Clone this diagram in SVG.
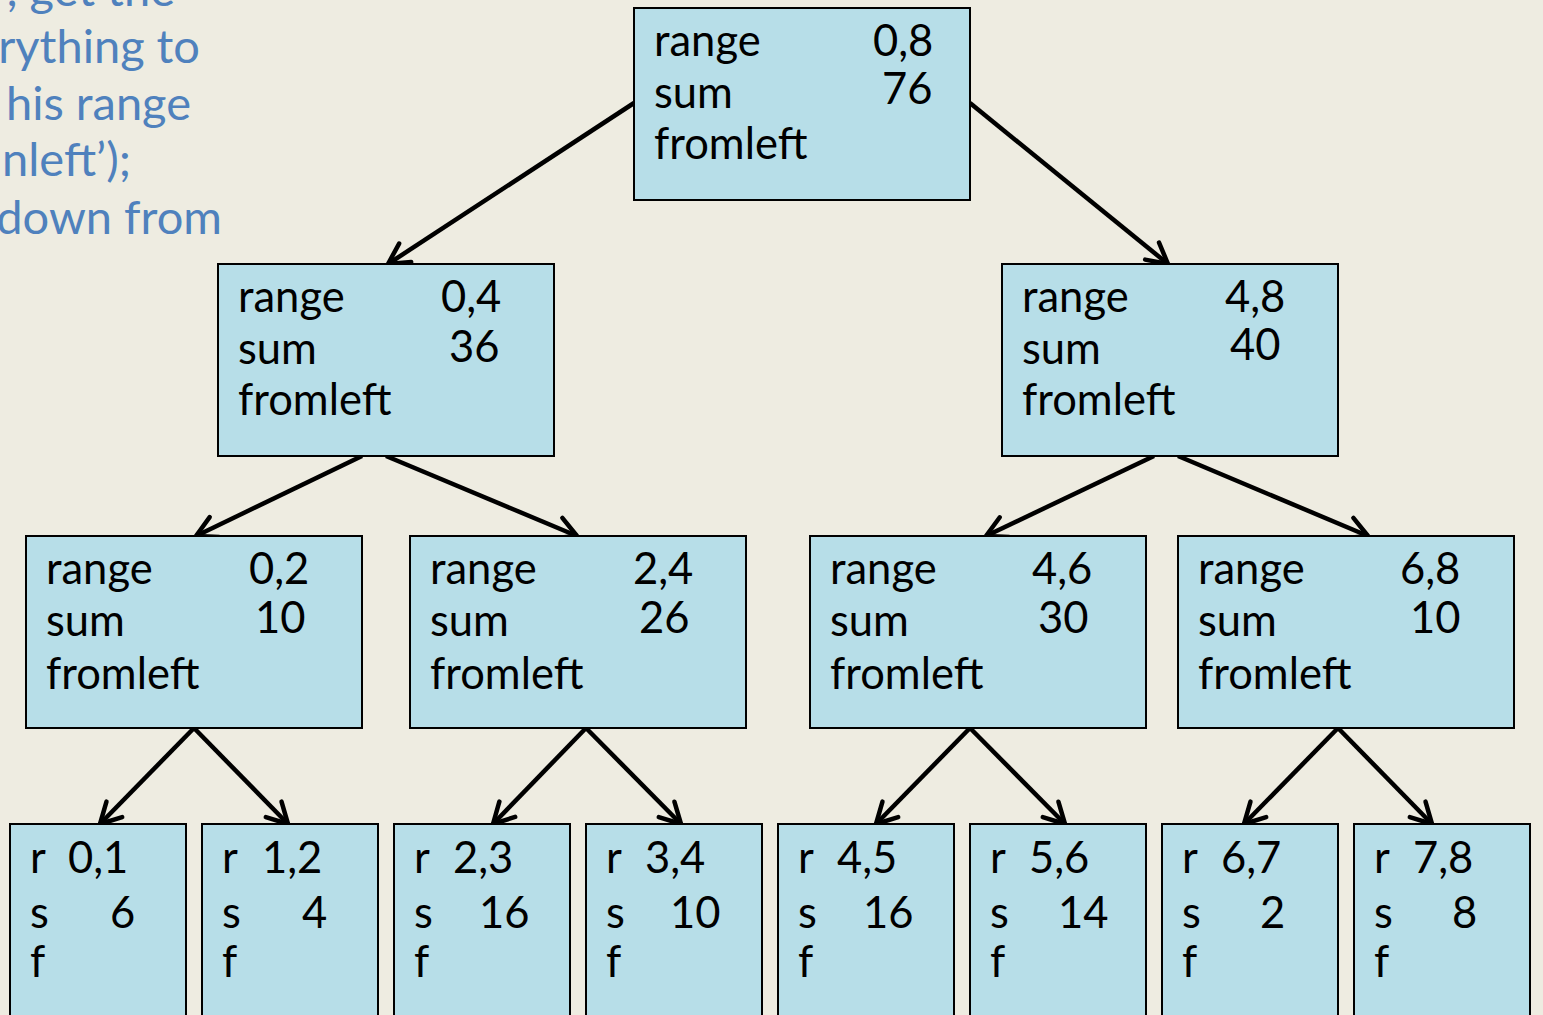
<svg xmlns="http://www.w3.org/2000/svg" width="1543" height="1015" viewBox="0 0 1543 1015">
  <style>
    .box { fill: #B7DEE8; stroke: #000; stroke-width: 2; }
    .t { font-family: Lato, "Liberation Sans", sans-serif; font-size: 43.5px; fill: #000; }
    .note { font-family: Lato, "Liberation Sans", sans-serif; font-size: 47px; fill: #4F81BD; text-anchor: end; }
    .edge { stroke: #000; stroke-width: 4.5; fill: none; marker-end: url(#arrow); }
  </style>
  <defs>
    <marker id="arrow" markerUnits="userSpaceOnUse" markerWidth="32" markerHeight="32" viewBox="0 0 32 32" refX="27" refY="16" orient="auto">
      <path d="M6.5,5 L27,16 L6.5,27" fill="none" stroke="#000" stroke-width="4.5" stroke-linecap="round" stroke-linejoin="round"/>
    </marker>
  </defs>

  <rect width="1543" height="1015" fill="#EEECE1"/>

  <!-- explanatory text running off the left edge -->
  <g id="note">
    <text class="note" x="175" y="6">, get the</text>
    <text class="note" x="200" y="63">rything to</text>
    <text class="note" x="191" y="120">his range</text>
    <text class="note" x="131" y="176">nleft’);</text>
    <text class="note" x="222" y="234">down from</text>
  </g>

  <!-- connectors -->
  <g id="connectors">
    <line class="edge" x1="634" y1="103" x2="388" y2="264"/>
    <line class="edge" x1="970" y1="103" x2="1168" y2="264"/>
    <line class="edge" x1="362" y1="456" x2="196" y2="536"/>
    <line class="edge" x1="386" y1="456" x2="577" y2="536"/>
    <line class="edge" x1="1154" y1="456" x2="986" y2="536"/>
    <line class="edge" x1="1178" y1="456" x2="1368" y2="536"/>
    <line class="edge" x1="194" y1="728" x2="100" y2="824"/>
    <line class="edge" x1="194" y1="728" x2="288" y2="824"/>
    <line class="edge" x1="586" y1="728" x2="493" y2="824"/>
    <line class="edge" x1="586" y1="728" x2="681" y2="824"/>
    <line class="edge" x1="970" y1="728" x2="876" y2="824"/>
    <line class="edge" x1="970" y1="728" x2="1065" y2="824"/>
    <line class="edge" x1="1338" y1="728" x2="1244" y2="824"/>
    <line class="edge" x1="1338" y1="728" x2="1432" y2="824"/>
  </g>

  <!-- root -->
  <g id="n08">
    <rect class="box" x="634" y="8" width="336" height="192"/>
    <text class="t" x="654" y="56">range</text>
    <text class="t" x="654" y="108">sum</text>
    <text class="t" x="654" y="159">fromleft</text>
    <text class="t" x="873" y="56">0,8</text>
    <text class="t" x="882" y="104">76</text>
  </g>

  <!-- second level -->
  <g id="n04">
    <rect class="box" x="218" y="264" width="336" height="192"/>
    <text class="t" x="238" y="312">range</text>
    <text class="t" x="238" y="364">sum</text>
    <text class="t" x="238" y="415">fromleft</text>
    <text class="t" x="441" y="312">0,4</text>
    <text class="t" x="449" y="362">36</text>
  </g>
  <g id="n48">
    <rect class="box" x="1002" y="264" width="336" height="192"/>
    <text class="t" x="1022" y="312">range</text>
    <text class="t" x="1022" y="364">sum</text>
    <text class="t" x="1022" y="415">fromleft</text>
    <text class="t" x="1225" y="312">4,8</text>
    <text class="t" x="1230" y="360">40</text>
  </g>

  <!-- third level -->
  <g id="n02">
    <rect class="box" x="26" y="536" width="336" height="192"/>
    <text class="t" x="46" y="584">range</text>
    <text class="t" x="46" y="636">sum</text>
    <text class="t" x="46" y="689">fromleft</text>
    <text class="t" x="249" y="584">0,2</text>
    <text class="t" x="255" y="633">10</text>
  </g>
  <g id="n24">
    <rect class="box" x="410" y="536" width="336" height="192"/>
    <text class="t" x="430" y="584">range</text>
    <text class="t" x="430" y="636">sum</text>
    <text class="t" x="430" y="689">fromleft</text>
    <text class="t" x="633" y="584">2,4</text>
    <text class="t" x="639" y="633">26</text>
  </g>
  <g id="n46">
    <rect class="box" x="810" y="536" width="336" height="192"/>
    <text class="t" x="830" y="584">range</text>
    <text class="t" x="830" y="636">sum</text>
    <text class="t" x="830" y="689">fromleft</text>
    <text class="t" x="1032" y="584">4,6</text>
    <text class="t" x="1038" y="633">30</text>
  </g>
  <g id="n68">
    <rect class="box" x="1178" y="536" width="336" height="192"/>
    <text class="t" x="1198" y="584">range</text>
    <text class="t" x="1198" y="636">sum</text>
    <text class="t" x="1198" y="689">fromleft</text>
    <text class="t" x="1400" y="584">6,8</text>
    <text class="t" x="1410" y="633">10</text>
  </g>

  <!-- leaves -->
  <g id="n01">
    <rect class="box" x="10" y="824" width="176" height="200"/>
    <text class="t" x="30" y="873">r</text><text class="t" x="68" y="873">0,1</text>
    <text class="t" x="30" y="928">s</text><text class="t" x="110" y="928">6</text>
    <text class="t" x="30" y="977">f</text>
  </g>
  <g id="n12">
    <rect class="box" x="202" y="824" width="176" height="200"/>
    <text class="t" x="222" y="873">r</text><text class="t" x="262" y="873">1,2</text>
    <text class="t" x="222" y="928">s</text><text class="t" x="302" y="928">4</text>
    <text class="t" x="222" y="977">f</text>
  </g>
  <g id="n23">
    <rect class="box" x="394" y="824" width="176" height="200"/>
    <text class="t" x="414" y="873">r</text><text class="t" x="453" y="873">2,3</text>
    <text class="t" x="414" y="928">s</text><text class="t" x="479" y="928">16</text>
    <text class="t" x="414" y="977">f</text>
  </g>
  <g id="n34">
    <rect class="box" x="586" y="824" width="176" height="200"/>
    <text class="t" x="606" y="873">r</text><text class="t" x="645" y="873">3,4</text>
    <text class="t" x="606" y="928">s</text><text class="t" x="670" y="928">10</text>
    <text class="t" x="606" y="977">f</text>
  </g>
  <g id="n45">
    <rect class="box" x="778" y="824" width="176" height="200"/>
    <text class="t" x="798" y="873">r</text><text class="t" x="837" y="873">4,5</text>
    <text class="t" x="798" y="928">s</text><text class="t" x="863" y="928">16</text>
    <text class="t" x="798" y="977">f</text>
  </g>
  <g id="n56">
    <rect class="box" x="970" y="824" width="176" height="200"/>
    <text class="t" x="990" y="873">r</text><text class="t" x="1029" y="873">5,6</text>
    <text class="t" x="990" y="928">s</text><text class="t" x="1058" y="928">14</text>
    <text class="t" x="990" y="977">f</text>
  </g>
  <g id="n67">
    <rect class="box" x="1162" y="824" width="176" height="200"/>
    <text class="t" x="1182" y="873">r</text><text class="t" x="1221" y="873">6,7</text>
    <text class="t" x="1182" y="928">s</text><text class="t" x="1260" y="928">2</text>
    <text class="t" x="1182" y="977">f</text>
  </g>
  <g id="n78">
    <rect class="box" x="1354" y="824" width="176" height="200"/>
    <text class="t" x="1374" y="873">r</text><text class="t" x="1413" y="873">7,8</text>
    <text class="t" x="1374" y="928">s</text><text class="t" x="1452" y="928">8</text>
    <text class="t" x="1374" y="977">f</text>
  </g>
</svg>
